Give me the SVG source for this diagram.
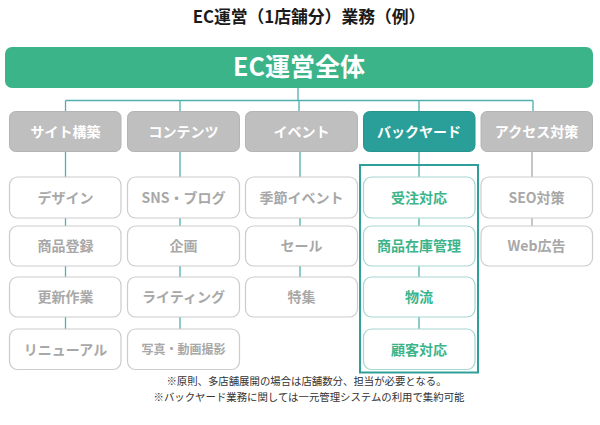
<svg xmlns="http://www.w3.org/2000/svg" width="600" height="425" viewBox="0 0 600 425">
<style>
text{font-family:"Noto Sans CJK JP","Noto Sans",sans-serif;text-anchor:middle;}
.title{font-size:16.8px;font-weight:700;fill:#1a1a1a;}
.main{fill:#3cb48a;}
.maint{font-size:25px;font-weight:700;fill:#ffffff;}
.cat{fill:#bfbfbf;stroke:#b4b4b4;stroke-width:1;}
.catby{fill:#2a9f99;stroke:#27958f;stroke-width:1;}
.catt{font-size:14px;font-weight:700;fill:#ffffff;}
.sub{fill:#ffffff;stroke:#cccccc;stroke-width:1.2;}
.subt{font-size:14px;font-weight:700;fill:#a8a8a8;}
.subs{font-size:12px;font-weight:700;fill:#a8a8a8;}
.subby{fill:#ffffff;stroke:#a6d7d3;stroke-width:1.2;}
.subbyt{font-size:14px;font-weight:700;fill:#3cb48a;}
.panel{fill:none;stroke:#2e9f99;stroke-width:2;}
.ln{stroke:#4fb0ad;stroke-width:1.3;fill:none;}
.lng{stroke:#a8a8a8;stroke-width:1.3;fill:none;}
.note{font-size:10.4px;fill:#333333;}
</style>
<text class="title" x="309" y="22.5">EC運営（1店舗分）業務（例）</text>

<g id="connectors">
<path class="ln" d="M298 88V100.5M65.5 100.5H533M65.5 100.5V111.5M180 100.5V111.5M299 100.5V111.5M419 100.5V111.5M533 100.5V111.5"/>
<path class="ln" d="M65.5 151.5V177M65.5 218V226M65.5 266V277M65.5 317V329"/>
<path class="ln" d="M180 151.5V177M180 218V226M180 266V277M180 317V329"/>
<path class="ln" d="M300 151.5V177M300 218V226M300 266V277"/>
<path class="ln" d="M419 151.5V177M419 218V226M419 266V277M419 317V329"/>
<path class="lng" d="M532 151.5V177M532 218V226"/>
</g>

<g id="main"><rect class="main" x="5" y="47" width="588" height="41" rx="7"/><text class="maint" x="299" y="76">EC運営全体</text></g>

<g id="cat-site"><rect class="cat" x="9.5" y="111.5" width="111.5" height="40" rx="6"/><text class="catt" x="65.5" y="136.5">サイト構築</text></g>
<g id="cat-contents"><rect class="cat" x="127.5" y="111.5" width="112" height="40" rx="6"/><text class="catt" x="183.5" y="136.5">コンテンツ</text></g>
<g id="cat-event"><rect class="cat" x="245.5" y="111.5" width="112" height="40" rx="6"/><text class="catt" x="301.5" y="136.5">イベント</text></g>
<g id="cat-backyard"><rect class="catby" x="363.5" y="111.5" width="111.5" height="40" rx="6"/><text class="catt" x="419" y="136.5">バックヤード</text></g>
<g id="cat-access"><rect class="cat" x="481" y="111.5" width="111.5" height="40" rx="6"/><text class="catt" x="536.5" y="136.5">アクセス対策</text></g>

<g id="backyard-panel"><rect class="panel" x="360" y="165" width="118" height="207.5"/></g>

<g id="s-design"><rect class="sub" x="9.5" y="177" width="111.5" height="41" rx="8"/><text class="subt" x="65.5" y="202.5">デザイン</text></g>
<g id="s-shohin"><rect class="sub" x="9.5" y="226" width="111.5" height="40" rx="8"/><text class="subt" x="65.5" y="251">商品登録</text></g>
<g id="s-koshin"><rect class="sub" x="9.5" y="277" width="111.5" height="40" rx="8"/><text class="subt" x="65.5" y="302">更新作業</text></g>
<g id="s-renewal"><rect class="sub" x="9.5" y="329" width="111.5" height="40.5" rx="8"/><text class="subt" x="65.5" y="354.5">リニューアル</text></g>

<g id="s-sns"><rect class="sub" x="127.5" y="177" width="112" height="41" rx="8"/><text class="subt" x="183.5" y="202.5">SNS・ブログ</text></g>
<g id="s-kikaku"><rect class="sub" x="127.5" y="226" width="112" height="40" rx="8"/><text class="subt" x="183.5" y="251">企画</text></g>
<g id="s-writing"><rect class="sub" x="127.5" y="277" width="112" height="40" rx="8"/><text class="subt" x="183.5" y="302">ライティング</text></g>
<g id="s-photo"><rect class="sub" x="127.5" y="329" width="112" height="40.5" rx="8"/><text class="subs" x="183.5" y="353.5">写真・動画撮影</text></g>

<g id="s-kisetsu"><rect class="sub" x="245.5" y="177" width="112" height="41" rx="8"/><text class="subt" x="301.5" y="202.5">季節イベント</text></g>
<g id="s-sale"><rect class="sub" x="245.5" y="226" width="112" height="40" rx="8"/><text class="subt" x="301.5" y="251">セール</text></g>
<g id="s-tokushu"><rect class="sub" x="245.5" y="277" width="112" height="40" rx="8"/><text class="subt" x="301.5" y="302">特集</text></g>

<g id="s-juchu"><rect class="subby" x="363.5" y="177" width="111.5" height="41" rx="8"/><text class="subbyt" x="419" y="202.5">受注対応</text></g>
<g id="s-zaiko"><rect class="subby" x="363.5" y="226" width="111.5" height="40" rx="8"/><text class="subbyt" x="419" y="251">商品在庫管理</text></g>
<g id="s-butsuryu"><rect class="subby" x="363.5" y="277" width="111.5" height="40" rx="8"/><text class="subbyt" x="419" y="302">物流</text></g>
<g id="s-kokyaku"><rect class="subby" x="363.5" y="329" width="111.5" height="40.5" rx="8"/><text class="subbyt" x="419" y="354.5">顧客対応</text></g>

<g id="s-seo"><rect class="sub" x="481" y="177" width="111.5" height="41" rx="8"/><text class="subt" x="536.5" y="202.5">SEO対策</text></g>
<g id="s-web"><rect class="sub" x="481" y="226" width="111.5" height="40" rx="8"/><text class="subt" x="536.5" y="251">Web広告</text></g>

<text class="note" x="306.5" y="384.5">※原則、多店舗展開の場合は店舗数分、担当が必要となる。</text>
<text class="note" x="309" y="401">※バックヤード業務に関しては一元管理システムの利用で集約可能</text>
</svg>
